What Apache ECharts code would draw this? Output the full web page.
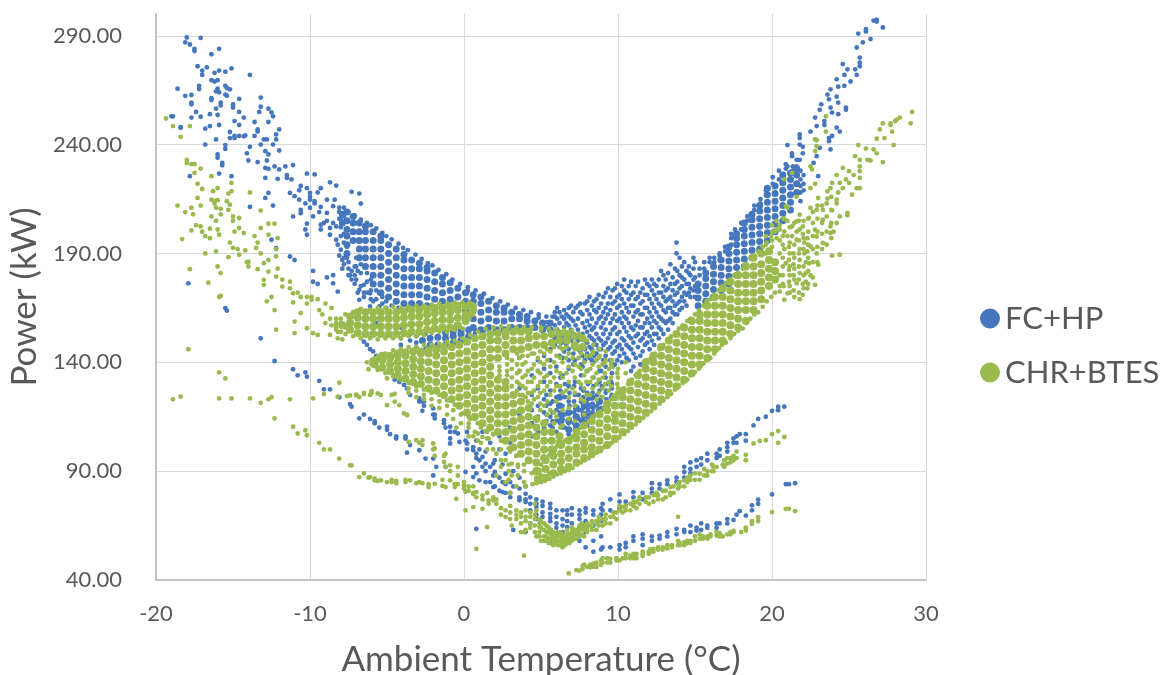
<!DOCTYPE html>
<html><head><meta charset="utf-8">
<script src="https://cdn.jsdelivr.net/npm/echarts@6/dist/echarts.min.js"></script>
<style>html,body{margin:0;background:#fff}#c{width:1166px;height:675px}</style></head>
<body><div id="c"></div>
<script>
const yTicks=[40,90,140,190,240,290];
const seriesNames=['FC+HP','CHR+BTES'];
// Each row: one x value followed by the y values read at that x.
const fcScattered=[
[-19,253],[-18.9,253],[-18.6,265.7],[-18.4,247.8,248],[-18.1,287,262.4],[-18,289.2],[-17.9,176.3],[-17.8,286,225.5],[-17.7,262.8,259.3,252.4,258.5],[-17.5,284,283],[-17.4,255],[-17.3,276],[-17.2,267,265.5],[-17.1,289,252.8],[-17,272,274],[-16.8,247.3,240],[-16.7,275.5],[-16.5,254,248.5],[-16.4,281.5,269.6,261.3,260.5],[-16.2,273,269],[-16.1,256.5,242.4,264.5],[-16,269.6,265.7,253.6,235.5,234],[-15.9,284,274,249,226.7,264],[-15.8,259.3,258],[-15.7,231.6,230.5],[-15.5,273.5,267,263,239.8,238,164.9],[-15.4,262.5,266,163.7],[-15.2,265.4,245.8,243],[-15.1,275,225.5],[-15,258.5,257],[-14.9,250.8,244,243],[-14.6,261,255,249,244],[-14.3,252.4,243.8],[-14.2,244.2],[-14.1,236],[-14,232.7],[-13.9,272,239,211.4],[-13.6,250.4,244],[-13.4,247,246,232],[-13.3,255],[-13.2,261.6,257.4,240,151],[-13,242.4],[-12.9,237,229.3,224.7,215.5],[-12.8,242.4,232.7],[-12.7,256.5,250.4,235.5,228.9,217.8],[-12.5,196.3,254.8],[-12.4,253,240,212],[-12.3,230,140.6],[-12.2,244.7,242.4,192.4],[-12.1,224.3],[-12,247,237.3,228.6],[-11.6,230],[-11.5,224.7,226],[-11.3,217.8,188.6],[-11.2,224],[-11.1,230.6,207,136.8],[-11,216.3,187],[-10.8,134],[-10.7,214.7,219],[-10.6,221,210,208.5],[-10.3,201,135.4,213],[-10.2,226.7,220,203.7,198.6,133.4],[-10,217.8,214.7,211,216],[-9.8,207,182,177],[-9.7,226.3,214,213],[-9.5,176,218],[-9.4,131.5,209],[-9.3,220,211.4,203.2,201],[-9.1,127.6,204],[-8.9,214.7,208.6,179,205],[-8.7,222.7,201.7,198.6,127.6],[-8.5,211.7,180,176.3,204],[-8.4,214.7],[-8.3,221.2,202.4,196.3],[-8.2,172.5,194],[-8.1,189,123.9],[-8,205.5,191.7,198,202],[-7.6,193,188],[-7.4,180,120.8],[-7.3,218.3,119.6],[-7,184,178,188],[-6.8,217.5,173.3,168.7,114.2],[-6.7,212.9],[-6.5,175.6,149.5,116],[-6.3,148],[-6.1,171.7,165.7,146,114],[-5.9,145,168],[-5.8,112,113],[-5.7,143,158],[-5.5,171.7,165.7,141.5,110],[-5,109,110.5],[-4.8,107],[-4.5,134,132],[-4.4,105,106],[-4.2,133,131],[-3.9,129.6],[-3.8,105,106],[-3.7,128,98.5],[-3.5,125,102],[-2.9,123.4,99.6,122],[-2.7,117.7,122],[-2.6,122,120],[-2.5,95.8],[-2,118.8,95.8,88,116],[-1.9,114.2,116],[-1.8,92],[-1.3,113.4,112],[-1.2,92,110],[-0.9,110.4,105,102.7,108],[-0.6,108],[-0.4,107.3],[-0.3,103.4],[0.1,89.6,104],[0.2,102.7,108,100],[0.6,99.6,92,87.3,101],[0.8,98,63.5,89,96,104],[1,85.8,95,100],[1.2,96.5,92,108],[1.4,93.5,85,90,99],[1.7,92,85,103],[1.9,93.5,82.7,88,107],[2,89.6,83,95],[2.3,100,87,81,106],[2.5,80.4,85,93],[2.7,88.8,80,84,98],[3,78,80,85,110,103],[3.2,63,90,83],[3.6,76.6,82,78,87],[4,79.6,75.8,62,83,77],[4.3,72,78,75,66],[4.7,73.5,77,75,70,68],[5.1,71,74,69,76],[5.6,70.4,73,67,68.5,75],[6,66,72,69,64],[6.4,68,65,62,72],[6.7,64.3,70,67,72,57],[7,70,66,60,73],[7.5,72,68,64,58,70],[7.9,71,67,62,55,73],[8.4,72,70,65,58,53],[8.9,73,70,67,54,60],[9,75,72,55],[9.5,72,55,77],[10.1,79.3,76,73,56,54],[10.5,76,74,57,55],[11,80.4,78,75,58,60],[11.6,80,77,59,56,61],[12.2,84.5,82,80,60,58],[12.7,84,82,60.4,59],[13.2,85.8,84,62,60],[13.8,87,85,63.5,61],[14.3,89.6,87,92,63,62],[14.7,91,94,89,65,62],[15.1,95,92,62.7,64],[15.4,93,96,66,63],[15.8,98,95,65,64],[16.4,98,96,66,64],[16.6,97,100,66],[17.1,101,99,103,66,68],[17.5,105,103,67.6],[17.7,106,103,70],[17.9,107,71.6],[18.3,107,104,69.6],[18.7,74.3,72],[18.8,111],[19.1,114,76.9,75],[19.6,115],[20,117.7,79.3],[20.4,119.6,118],[20.8,119.6],[20.9,84],[21.1,84],[21.5,84.5],
[21,239.8,230],[21.3,234.7,236],[21.6,230,233],[21.8,244.7,240,233,243],[22,236,239],[22.5,246],[22.7,231.6],[22.8,252.4],[22.9,248.5,234.7],[23,225.5],[23.1,256,238.5],[23.2,258.5],[23.4,250.8,249],[23.6,263],[23.7,260.8,241.6,243],[23.8,265.4,257,237.8],[23.9,254.7,244],[24.2,270,262,247.8],[24.3,266.6,259.3,254],[24.4,246],[24.6,277],[24.7,272,267],[24.8,257,256],[24.9,274.6],[25.1,269],[25.4,274.6],[25.5,284.6,272],[25.6,291],[25.7,280,277.7,276],[25.9,287],[26.1,293,292],[26.4,288.5],[26.6,297],[26.8,297.4,296.5],[27.2,293.8],
[5.9,161,157,151,148,163],[6.2,163,158,154,147,143],[6.5,160,156,150,145,164],[6.8,165,161,157,152,146,141],[7.1,163,159,153,148,144,139],[7.4,166,160,155,150,146],[7.7,162,158,153,147,143,138],[8,168,164,159,154,149,144],[8.3,166,160,155,151,146,141],[8.6,169,163,158,153,148,144],[8.9,167,161,156,150,146,136],[9.2,172,165,160,155,149,143],[9.5,170,164,158,153,147,141],[9.8,174,168,162,156,150,145,139],[10.1,171,166,160,154,148,143],[10.4,178,173,167,161,156,150,144],[10.7,175,169,163,158,152,147,141],[11,172,166,161,155,149,144,138],[11.3,177,170,164,159,153,147],[11.6,174,168,162,156,151,145],[11.9,171,176,165,160,154,149],[12.2,178,173,167,161,156,150],[12.5,175,169,163,158,153],[12.8,182,172,166,160,155],[13.1,178,173,168,163,158],[13.4,185,176,170,165,160],[13.7,183,176,171,166,162],[13.8,195,190],[14,188,180,174,168,164],[14.3,186,178,172,168],[14.6,184,181,176,172],[14.9,188,183,178,173],[4.4,125,118,112,106,134],[4.8,128,120,115,108,136,141],[5.2,131,123,117,110,137,143],[5.6,127,121,115,111,135,141,146],[6,130,124,118,113,108,138],[6.4,126,120,114,110,134,142],[6.8,129,122,117,112,107,137],[7.2,125,120,115,109,131,141],[7.6,128,122,118,113,134,139],[8,126,121,116,120,111,136],[8.4,129,124,119,115,133,140],[8.8,127,122,117,131,136],[9.2,126,121,133,138],[9.6,128,125,135,130],[3.6,128,122,116,136,142]
];
const fcExtra=[
[-8.1,206,209,211],[-7.8,211,207,199,195,188,185],[-7.5,209,186,183,180],[-7.1,207.5,184,180,176],[-6.7,205.5,185,181,175],[-6.3,204,181,177,172],[-6.05,203,178,173,169],[-5.7,201.5,173,169],[-5.3,199.5,170,167],[-5.05,198,168,165],[-4.7,196.5,166],[-4.25,194.5,165],[-3.95,192.5,164],[-3.65,191.5,164.5],[-3.15,189.5],[-2.75,187.5],[-2.35,185.5],[-2.05,184.5],[-1.65,182.5],[-1.15,180.5],[-0.75,178],[-0.25,176],[0.25,174.5,172.8],[0.75,173],[1.3,171.5],[1.85,169.5],[2.35,168],[2.85,166.5],[3.35,165],[3.85,164],[4.35,163],[4.85,162,160.5],[5.35,161,156],[5.75,161,154],
[-6.5,172,170],[-7.3,178,182],[-7.9,183,187],[-6.9,182,172],[-4.1,148,151,156],[-3.5,150,153],[-3.1,149,152,147],[-2.5,146.5,153],[0.7,155,153],[1.3,154.5],[3.9,155],[5.4,158.5],
[6.05,160,155,152,165],[6.35,161,152,149],[6.65,162,153,148,158],[6.95,166,155,150,160],[7.25,165,157,152,147],[7.55,167,163,151,145],[7.85,167,156,150,146,141],[8.15,170,162,157,152,147,142],[8.45,168,164,156,150,143],[8.75,171,165,160,151,146],[9.05,170,163,158,153,148,141],[9.35,174,167,162,151,146],[9.65,173,167,160,155,149,144,138],[9.95,176,170,165,159,153,147,141],[10.25,175,169,163,158,151,146,140],[10.55,172,165,160,154,148,142],[10.85,177,171,166,156,151,146,136],[11.15,175,169,163,157,152,142],[11.45,172,167,162,156,150,143,139],[11.75,178,171,165,158,153,148],[12.05,175,169,163,158,152,146],[12.35,176,171,165,159,153,148],[12.65,178,172,167,161,156,151],[12.95,180,175,170,164,159,153],[13.25,181,174,169,165,159,155],[13.55,179,173,168,163,158],[13.85,182,177,172,167,162],[14.15,184,179,175,170,165],[14.45,182,176,171,166],[14.7,180,174,170],[15,186,179,175,170],[15.3,183,180],[15.6,186,183],[15.95,186,188],[16.25,188,186],[16.6,189,187,190],[16.95,191,193],[17.35,197,194,199],[17.6,201,198],[18,204,201],[18.4,207,205],[18.85,210,212],[19.25,215,213],[19.6,219,217],[20.05,222,225],[20.45,224,228],[20.9,229,231],[21.35,228,230],[21.85,228,224,221,218,214],[22.05,226,222,219],
[6.25,117,112,127,133],[6.55,116,110,124,130],[6.85,120,114,109,126],[7.15,122,117,112,129],[7.45,125,118,114,110],[7.75,124,119,114,127],[8.05,123,118,114,130],[8.35,126,121,117,113],[8.65,125,120,116,130],[8.95,124,119,129],[9.25,123,127,130],[9.55,124,131],[5.35,125,120,113,116],[5.75,122,117,113,110]
];
const fcDense=[
[-7.9,204,208],[-7.6,190,194,198,201,205,209],[-7.2,196,200,204,207],[-6.8,188,192,196,200,204],[-6.4,184,188,192,196,200,202.5],[-5.9,176,180,184,188,192,196,200],[-5.4,172,176,180,184,188,192,196,198],[-4.9,170,174,178,182,186,190,194],[-4.4,168,172,176,180,184,188,192],[-3.9,167,171,175,179,183,187,189.5],[-3.4,167,171,175,179,183,187],[-2.9,167,171,175,179,183,185.5],[-2.4,166,170,174,178,182,183.5],[-1.9,165,169,173,177,181],[-1.4,164,168,172,176,179],[-0.9,165,169,173,176.5],[-0.4,166,170,174],[0.1,160,164,168,172],[0.6,156,160,164,168,171],[1.1,155,159,163,167,170],[1.6,156,160,164,168],[2.1,155,159,163,166],[2.6,155,159,163,165],[3.1,156,160,163],[3.6,156,160,162],[4.1,156,159,161],[4.6,156,159],[5.1,155,158],[5.6,155,158],
[-2.7,150],[-2.2,148,151],[-1.7,148,151.5],[-1.2,148,151,153.5],[-0.7,149,152,154],[-0.2,150,153,155],[0.3,152,155],
[15.2,166,169.5,173,176],[15.7,168,171.5,175,178.5,181],[16.2,170,173.5,177,180.5,184],[16.7,173,176.5,180,183.5,187],[17.2,176,179.5,183,186.5,190,193],[17.7,180,183.5,187,190.5,194,197,199],[18.2,184,187.5,191,194.5,198,201,204],[18.7,188,191.5,195,198.5,202,205.5,208],[19.2,192,195.5,199,202.5,206,209.5,212],[19.7,196,199.5,203,206.5,210,213.5,217,220],[20.2,200,203.5,207,210.5,214,217.5,221],[20.7,205,208.5,212,215.5,219,222.5,226],[21.2,210,213.5,217,220.5,224,227],[21.6,218,222,226,229],
[6.3,113,116],[6.8,109,113,117],[7.3,111,115,119],[7.8,112,116,120],[8.3,116,120,124],[8.8,118,122],[6.2,120,124]
];
const chrScattered=[
[-19.35,252],[-18.9,248.5,123],[-18.6,212],[-18.4,243.6,124.2],[-18.3,196.6],[-18.1,209],[-18,233,231.5],[-17.9,146],[-17.8,248.5,182.8],[-17.7,231,211,200.6],[-17.6,208],[-17.5,231,227],[-17.4,203],[-17.3,222,215.5],[-17.1,229,212,202.4],[-17,219.6,200],[-16.8,198,190],[-16.6,176.6],[-16.5,201.4,197],[-16.4,225.5,214.7,207],[-16.3,218.6],[-16.2,214,213],[-16.1,211,205,191],[-16,220,214.5,201,184],[-15.9,198.6,135.4,123.4,170],[-15.8,210.5,208,181,170.5],[-15.5,132.6],[-15.4,214],[-15.3,217.5,210,188.3],[-15.2,212.4,195],[-15.1,222.4,218.6,123.4],[-15,207,205,192.6],[-14.9,200],[-14.7,192],[-14.6,206.3,201.7,189.4],[-14.3,199.4],[-14.2,191.4],[-14.1,186],[-14,184,186.2],[-13.9,218,123.4],[-13.6,198],[-13.5,192.6],[-13.4,195,182.8],[-13.2,209.7,201.7,190,121.4],[-13,185.5,177.9,175.6],[-12.8,168],[-12.7,203.7,198.6,187,181.7,123],[-12.5,124,170],[-12.3,203.7,164,114.2],[-12.2,192,188.7,179.4,155],[-12.1,197,183],[-11.8,178,174.8],[-11.3,177,174,123],[-11.1,171.7,167.5,110.4],[-11,158.7,153.4],[-10.8,107.3,172],[-10.6,162.6,170],[-10.3,108.8],[-10.2,170,167,155.7,106.5],[-9.9,168.7,170],[-9.8,153.4,123.4],[-9.5,169,152.6],[-9.4,164,103],[-9.2,162],[-9.1,125.4,100],[-9,167,158],[-8.7,160,152.6,100],[-8.6,165,157],[-8.3,157,160,155],[-8.2,151,124.2,154],[-8.1,130.6,95.8],[-7.9,150.5],[-7.6,124.5],[-7.4,92.7,124.8],[-7.3,92.7],[-7,124.8,125.2],[-6.8,87.3,124],[-6.5,125.4,89,126],[-6.2,136.8,87],[-6.1,87.3,125],[-6,126,126.8],[-5.8,85.8,86.5],[-5.6,136.5,125.7,85.5],[-5.4,125,85.8],[-5,132.6,120.3,85],[-4.7,125,85,86],[-4.5,121.9,125.5],[-4.4,84.5,85.5],[-4.2,120.3],[-3.9,116.5],[-3.8,85,86],[-3.7,115.7,116],[-3.6,103.4],[-3.5,85.8],[-3.1,104.2,84.5],[-2.9,103,85],[-2.7,104.2,84.5,102],[-2.3,82.7,84],[-2,102.7,100],[-1.9,100.4,84.2,97],[-1.4,83.2,86],[-1.3,94.2,97],[-1.2,98,82.7,92],[-0.9,92.7,85.8,90],[-0.6,82.7,84],[-0.5,77.3,110],[-0.4,92,84,88],[0,83.5,82,85],[0.1,72,80.5],[0.3,111.9,110,81,83],[0.6,73.5,83,80,79.5,106],[0.8,54.3,80.4,78],[0.9,107.3,104],[1.2,105.7,78.9,77,72.7],[1.5,64.3,80],[1.6,105,76.6,75],[1.9,76.6,78,100],[2.1,98,75,77,88],[2.4,100,73,70,92,95],[2.7,95,69,72,85],[3,68,71,74,80,99],[3.1,93.5,88,65],[3.4,68,70,72,83,97],[3.7,66,69,71,62],[3.9,51.2,62],[4,63,67,69,72,83],[4.3,69,66,64,71],[4.6,68,65,62,70,75],[4.9,64.3,66,68,60,62],[5.2,63,60,66,58],[5.5,62,59,57,64],[5.8,58,60,62,56],[6.1,60,58,56,62],[6.4,59,61,57,55],[6.7,59,57,61,63],[6.8,43],[7,60,58,62,64],[7.3,61,63,59,44.5],[7.5,62.7,65,60,44.3],[7.8,63,60,65,47],[8,64,62,66,46],[8.2,45.8,47,65],[8.6,65.8,63,67,48,46],[9,68,65,48,50],[9.5,69,66,49.7,48],[9.9,71,68,50,49],[10.1,49,72,74],[10.3,73.5,71,50],[10.8,75,72,51.2,50],[11.2,76,73,52,50],[11.4,77.3,75,78],[11.6,52,51,53],[12,78,75,53,52],[12.3,79,76,54.3,53],[12.5,78.9,80],[12.9,81,77,55,54],[13.2,55.8,54.5,56],[13.4,82.7,80,79],[13.9,69,84,82,56,58],[14.3,85.8,83,57.4,56],[14.7,86,88,58,57],[15.3,88.8,86,59,61],[15.8,90,88,60,59],[16.1,90,93],[16.4,92,60.4,62],[16.8,93,60],[17.1,93.5,96,61],[17.5,95,97,62,62.5],[18,62],[18.3,95,97.5,62.7,64],[18.7,65.8,67],[18.8,102.7],[19.1,68.9,67],[19.2,103.9],[19.6,104.2],[20,107,71.2],[20.4,108.4,103],[20.8,105.7],[20.9,72.7],[21.1,72.7],[21.5,71.6],
[29.1,255],[29,249.8],[28.3,252.4],[28.1,251.5],[28,250.8],[27.9,239.8],[27.8,246],[27.7,249.8,249],[27.3,243],[27.2,249.8,232],[27,247],[26.8,242.7,236],[26.6,237.8],[26.4,232.7],[26.2,233],[26.1,238.2],[25.7,233,230,227.8,224.7,220],[25.6,239.8],[25.5,220],[25.4,234.7],[25.3,226],[25.2,217],[25,227.8,222.4],[24.9,208.6,207.5],[24.8,224],[24.6,229.3,220],[24.4,222.4,207,189.4],[24.3,218],[24.2,226,214.7,213,204],[24,200],[23.9,222.4,209.8,189],[23.8,220,202.4,199.4],[23.6,218.6,215.2],[23.5,253,246],[23.3,210,205.5,194.8],[23,215.5,184.8],[22.9,239.3,210,197.8,190,242],[22.8,242.4,222,200.9,175.6,237],[22.6,228.6],[22.5,230,220,210.9,193.2,180],[22.4,206.3,185.5],[22.3,197,174,191],[22.2,181,186,177],[22.1,190,195],[22,202.4,199,176,171],[21.8,207.8,201,187,192,181,169],[21.6,216,204.7,196.3,176.3,200],[21.4,190,185,180,173],[21.3,227,202.4,198],[21.1,182.5,193,187,177],[21,171.7,198,205,211],[20.9,211.7,185.5],[20.8,224,168.7,192,206,200],[20.5,175,180,190,201,196],
[7.8,140,134,128,122,116],[8.2,143,137,131,125],[8.6,141,135,130,123],[9,139,133,128,124],[9.4,137,131,127],[3.6,142,136,130,125],[4,140,134,128,124],[4.4,144,137,131,126,121],[4.8,142,136,129,124],[5.2,144,139,133,127,120],[5.6,145,138,131,125,118],[6,143,136,129,122,115],[6.4,146,140,133,126,118,111],[6.8,144,138,131,124,119,114],[7.2,146,139,133,126,120,113],[7.6,144,137,130,123],[10,133,128,137],[10.5,135,140]
];
const chrExtra=[
[4.45,84],[4.7,84.5,87,91],[5,85,88,93],[5.25,85.5,96],[5.55,86.5,89,97.5],[5.8,87.5,99.5],[6.05,88.5,101.5],[6.3,89,102.5],[6.55,90,104],[6.8,90.5,92,105],[7.05,91.5,106],[7.35,93,108.5],[7.6,94,110],[7.85,95,111.5],[8.1,96,113],[8.35,97,115],[8.6,98.5,116],[8.85,100,117.5],[9.1,101,119],[9.4,102.5,121.5],[9.6,103,123],[9.85,104,124.5],[10.1,105.5,126],[10.4,107,128],[10.65,108.5,130],[10.9,110,132],[11.15,111.5,134],[11.4,113,136],[11.65,114.5,138],[11.9,116,141],[12.15,117.5,142],[12.4,119,144],[12.7,121,146],[12.95,122.5,148],[13.2,124,150],[13.45,125.5,152],[13.7,127.5,153.5],[13.95,129,155.5],[14.2,130.5,157],[14.5,132,159],[14.7,134,160],[15,135.5,162],[15.25,137,164],[15.55,139.5,166],[15.75,141,168],[16,142,169],[16.25,144,171],[16.55,146.5,173],[16.75,148,174.5],[17,149,176.5],[17.3,151,178],[17.55,153,180],[17.8,154.5,181],[18.1,155.5,183],[18.35,158,185],[18.6,160,188],[18.85,162,189],[19.1,163,191],[19.4,165.5,193],[19.65,168,195],[19.95,170,198],[20.2,172,200],[20.5,172.5,203],[20.75,175,206],
[-8.3,156,158],[-8,154,158,160],[-7.7,153,156,162],[-7.2,152,163],[-6.7,151,164.5],[-6.1,151,164],[-5.6,150.5,165],[-5.1,151,165],[-4.6,151,165.5],[-4.1,151,165],[-3.6,152,165.5],[-3.1,152,166],[-2.6,152.5,166],[-2.1,153.5,166.5],[-1.6,154,167],[-1.1,154,167],[-0.6,155,167.5],[-0.1,155.5,167.5],[0.35,160,167.5],[0.7,164,166],
[-6.3,140],[-6,139,141],[-5.6,137,142.5],[-5.1,135,144],[-4.6,133.5,145.5],[-4.1,132,146],[-3.6,130.5,147],[-3.1,129,147],[-2.6,127.5,148],[-2.1,126,148],[-1.6,125,148.5],[-1.1,122.5,149.5],[-0.6,120.5,150],[-0.1,116.5,151],[0.4,114,152.5],[0.9,112,154],[1.4,108.5,155.5],[1.9,107,156],[2.4,104,156.5],[2.9,100.5,156.5],[3.4,97,156],[3.9,93,156],[4.4,89,156],[5,156,155],[5.5,155.5],[6,155],[6.5,155],[7,154.5],[7.5,153],[8,150],[8.4,148,145],[8.8,146,143],[9.2,145,141],[9.6,141,138],
[2.3,136,138,134],[2.8,134,136,139,142],[3.1,129,133,137,141],[3.45,127,131,135,139,144],[3.8,125,129,133,139,143],[4.15,122,126,131,136,143],[4.55,123,127,133,139,144],[4.95,118,121,126,131,135,140,145],[5.4,116,122,129,134,141,146],[5.85,112,117,127,133,140,147],[6.25,110,129,135,142,147],[6.65,127,135,142,147],[7.05,128,136,142,147],[7.45,131,138,142,146],[7.95,125,131,136,143],[8.35,128,133,139,144],[8.75,126,132,138,142],[9.15,130,135,140],[9.55,129,133,139],[9.95,130,135,126],
[2.9,90,86,93],[3.5,88,93,92],[3.9,85,90],[1.5,100,105,108],[1.1,103,110],[0.7,108,114],[0.3,106,115],[-0.2,112,116],[-0.7,114,118],[-1.1,116,120],[-1.6,119,122],[-2.1,120,123],[-2.6,123,125],[-3.1,124,127],[-3.6,126,128],
[4.7,72,60],[5,64,67,58],[5.35,62,65,58,60],[5.65,59,61,63,57],[5.95,57,59,61],[6.25,56,58,60,62],[6.55,58,60,56],[6.85,57,59,61],[7.15,59,61,63],[7.4,61,63],[7.65,61,64,66],[7.95,63,65],[8.3,63,65,67],[8.75,65,67,69],[9.2,66,68,70],[9.7,69,71],[10.5,72,74],[11,74,76],[11.8,76,78],[12.6,79,77],[13.1,78,81],[13.6,80,83],[14,83,85],[14.5,85,87],[15,86,89],[15.6,88,91],[16.2,90,92],[16.9,92,95],[17.3,94,96],[17.7,96,99],
[7.7,45,46.5],[8.4,46,47.5],[8.9,47,49],[9.3,48,50],[10.5,50,52],[11,50,52],[12.1,53,54],[12.6,54,55],[13.5,56,55],[14,56,57],[14.5,57,58],[15,58,60],[15.5,59,60],[16,60,61],[16.6,60,61.5],[17.3,61,62],
[19.6,198,194,190],[20,200,196,203,193],[20.3,201,197,205],[20.7,198,194,188,184,180,176],[21.15,172,175,180,184,190,195,202],[21.45,170,178,183,188,194,204],[21.75,172,178,184,190,196,205],[22.05,174,180,184,192,197,205],[22.35,176,182,188,194,200,206],[22.65,179,186,192,198,204,209],[22.95,186,193,200,206,212],[23.25,192,199,204,212],[23.55,194,200,207,213],[23.85,197,204,210,216]
];
const chrDense=[
[-7.9,157],[-7.4,155,158,161],[-6.9,153.5,157,160.5,163],[-6.4,153,156.5,160,163],[-5.9,153,156.5,160,163],[-5.4,153,156.5,160,163],[-4.9,153,156.5,160,163],[-4.4,153,156.5,160,163],[-3.9,153.5,157,160.5,163.5],[-3.4,154,157.5,161,164],[-2.9,154,157.5,161,164],[-2.4,155,158.5,162,164.5],[-1.9,155.5,159,162.5,165],[-1.4,156,159.5,163,165],[-0.9,156,159.5,163,165.5],[-0.4,157,160.5,164,166],[0.1,159,162,165.5],[0.5,162.5,166],
[-5.8,139,141],[-5.3,137.5,141,143],[-4.8,136,139,142,143],[-4.3,134,137,140,143,144],[-3.8,132.5,136,139.5,143,144.5],[-3.3,131,134.5,138,141.5,145],[-2.8,130,133.5,137,140.5,144,145],[-2.3,128,132,136,140,144,145.5],[-1.8,127,131,135,139,143,146],[-1.3,125,129,133,137,141,145,147],[-0.8,123,127,131,135,139,143,147],[-0.3,120,124,128,132,136,140,144,148],[0.2,117,121,125,129,133,137,141,145,149.5],[0.7,115,119,123,127,131,135,139,143,147,151],[1.2,112,116,120,124,128,132,136,140,144,148,152],[1.7,110,114,118,122,126,130,134,138,142,146,150,153],[2.2,108,112,116,120,124,128,132,142,146,150,153.5],[2.7,104,108,112,116,120,124,128,131,144,148,152,154],[3.2,101,105,109,113,117,121,125,146,150,154],[3.7,98,102,106,110,114,118,122,146,150,154],[4.2,95,99,103,107,111,115,119,147,151,154],[4.7,90,94,98,102,106,110,114,148,152],[5.2,96,100,104,108,112,148,152],[5.7,100,104,108,149,153],[6.2,103,106,150,153],[6.7,150,153],[7.2,148,152],[7.7,147,151],
[4.8,86,90],[5.3,87,91,95],[5.8,89,93,97,100],[6.3,91,94.5,98,102],[6.8,92,96,100,104],[7.3,94,98,101,105,108],[7.8,96,100,103,107,111],[8.3,98,101,105,109,113],[8.8,100,104,108,112,116],[9.3,102,106,110,114,118,121],[9.8,105,109,113,116,120,124],[10.3,108,112,116,120,124,127],[10.8,111,115,119,123,127,131],[11.3,114,118,122,126,130,134],[11.8,117,121,125,129,133,137,140],[12.3,120,124,128,132,136,140,143],[12.8,123,127,131,135,139,143,147],[13.3,126,130,134,138,142,146,150],[13.8,129,133,137,141,145,149,153],[14.3,132,136,140,144,148,152,156],[14.8,135,139,143,147,151,155,159],[15.3,139,143,147,151,155,159,162],[15.8,142,146,150,154,158,162,166],[16.3,146,150,154,158,162,166,170],[16.8,150,154,158,162,166,170,174],[17.3,153,157,161,165,169,173,177],[17.8,156,160,164,168,172,176,180],[18.3,159,164,168,172,176,180,184],[18.8,164,168,172,176,180,184,188],[19.3,169,173,177,181,185,190],[19.8,175,179,183,187,191],[20.2,178,182,186]
];
const toPoints=rows=>rows.flatMap(([x,...ys])=>ys.map(y=>[x,y]));
const blue='#4677bc',green='#9aba4e';
const layer=(name,rows,color,size)=>({name,type:'scatter',data:toPoints(rows),symbol:'circle',symbolSize:size,itemStyle:{color,opacity:1},silent:true,animation:false});
const chart=echarts.init(document.getElementById('c'),null,{renderer:'canvas'});
chart.setOption({
 animation:false,backgroundColor:'#fff',
 textStyle:{fontFamily:'Lato'},
 grid:{left:156,right:240,top:14,bottom:95,outerBoundsMode:'none'},
 legend:{orient:'vertical',left:975,top:298,itemWidth:20,itemHeight:20,itemGap:23,selectedMode:false,
  data:seriesNames.map(name=>({name,icon:'circle'})),
  textStyle:{fontSize:31,color:'#595959',fontFamily:'Lato',padding:[0,0,0,0]}},
 xAxis:{type:'value',min:-20,max:30,interval:10,
  name:'Ambient Temperature (°C)',nameLocation:'middle',nameGap:62,
  nameTextStyle:{fontSize:35,color:'#595959',fontFamily:'Lato'},
  axisLine:{onZero:false,lineStyle:{color:'#c4c4c4',width:2}},axisTick:{show:false},
  axisLabel:{fontSize:22,color:'#595959',margin:23},
  splitLine:{lineStyle:{color:'#d9d9d9',width:1}}},
 yAxis:{type:'value',min:40,max:300,
  name:'Power (kW)',nameLocation:'middle',nameGap:101,
  nameTextStyle:{fontSize:35,color:'#595959',fontFamily:'Lato'},
  axisLine:{show:true,onZero:false,lineStyle:{color:'#c4c4c4',width:2}},
  axisTick:{show:false,customValues:yTicks},
  axisLabel:{fontSize:22,color:'#595959',margin:34,customValues:yTicks,formatter:v=>v.toFixed(2)},
  splitLine:{show:true,lineStyle:{color:'#d9d9d9',width:1}}},
 series:[
  layer(seriesNames[0],fcScattered.concat(fcExtra),blue,4.8),
  layer(seriesNames[0],fcDense,blue,7),
  layer(seriesNames[1],chrScattered.concat(chrExtra),green,4.8),
  layer(seriesNames[1],chrDense,green,8)
 ]
});
</script></body></html>
